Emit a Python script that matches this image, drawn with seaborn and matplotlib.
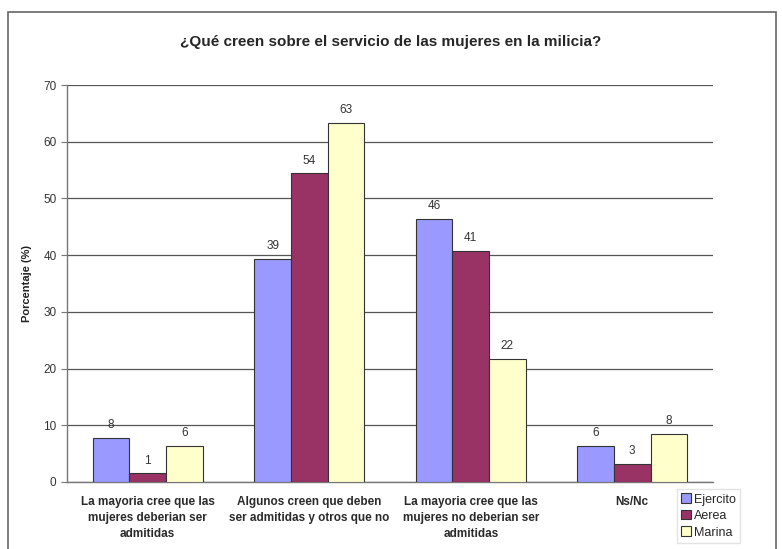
import numpy as np
import pandas as pd
import matplotlib
matplotlib.use('Agg')
import matplotlib.pyplot as plt
import seaborn as sns
from matplotlib.patches import Rectangle

# data
categorias = ['La mayoria cree que las\nmujeres deberian ser\nadmitidas',
              'Algunos creen que deben\nser admitidas y otros que no',
              'La mayoria cree que las\nmujeres no deberian ser\nadmitidas',
              'Ns/Nc']
series = ['Ejercito', 'Aerea', 'Marina']
ejercito = [7.8, 39.3, 46.4, 6.3]
aerea = [1.5, 54.4, 40.7, 3.2]
marina = [6.3, 63.3, 21.7, 8.5]
etiq_ejercito = ['8', '39', '46', '6']
etiq_aerea = ['1', '54', '41', '3']
etiq_marina = ['6', '63', '22', '8']
colores = ['#9999FF', '#993366', '#FFFFCC']

df = pd.DataFrame({
    'categoria': categorias * 3,
    'serie': [s for s in series for _ in categorias],
    'valor': ejercito + aerea + marina,
})

sns.set_style('white')
plt.rcParams['font.family'] = ['Liberation Sans', 'DejaVu Sans']

fig = plt.figure(figsize=(7.82, 5.49), dpi=100)
ax = fig.add_axes([67/782, 1 - 482/549, (713-67)/782, (482-85)/549])

sns.barplot(data=df, x='categoria', y='valor', hue='serie', order=categorias,
            hue_order=series, palette=colores, saturation=1, width=0.68, gap=0,
            edgecolor='#333333', linewidth=0.8, ax=ax, legend=False, zorder=3)

for cont, labs in zip(ax.containers, [etiq_ejercito, etiq_aerea, etiq_marina]):
    ax.bar_label(cont, labels=labs, padding=5, fontsize=8.5, color='#333333')

ax.set_ylim(0, 70)
ax.set_yticks(range(0, 71, 10))
ax.set_xlim(-0.5, 3.5)
ax.yaxis.grid(True, color='#555555', linewidth=0.9, zorder=0)
ax.set_axisbelow(True)
for s in ['top', 'right']:
    ax.spines[s].set_visible(False)
for s in ['left', 'bottom']:
    ax.spines[s].set_color('#777777')
    ax.spines[s].set_linewidth(1.0)

ax.tick_params(axis='y', direction='out', length=4, color='#777777',
               labelsize=8.5, labelcolor='#333333', left=True)
ax.tick_params(axis='x', length=0, labelsize=8.5, pad=10)
for t in ax.get_xticklabels():
    t.set_fontweight('bold')
    t.set_color('#2a2a2a')
    t.set_linespacing(1.45)
# separator ticks between categories
ax.set_xticks([-0.5, 0.5, 1.5, 2.5, 3.5], minor=True)
ax.tick_params(axis='x', which='minor', direction='out', length=4, color='#777777')

ax.set_xlabel('')
ax.set_ylabel('Porcentaje (%)', fontsize=8, fontweight='bold', color='#222222', labelpad=8)

fig.suptitle('¿Qué creen sobre el servicio de las mujeres en la milicia?',
             x=0.5, y=1 - 42/549, va='center', fontsize=11, fontweight='bold')

handles = [Rectangle((0, 0), 1, 1, facecolor=c, edgecolor='#333333', linewidth=0.8)
           for c in colores]
fig.legend(handles, series, loc='upper left',
           bbox_to_anchor=(677/782, 1 - 489/549), fontsize=9,
           frameon=True, edgecolor='#dddddd', fancybox=False,
           handlelength=0.8, handleheight=0.8, handletextpad=0.2,
           labelspacing=0.35, borderpad=0.35, borderaxespad=0)

# outer chart border
fig.add_artist(Rectangle((8/782, -0.05), (776-8)/782, 1.05 - 12/549,
                         transform=fig.transFigure, fill=False,
                         edgecolor='#666666', linewidth=1.2))

fig.savefig('out.png', dpi=100)
